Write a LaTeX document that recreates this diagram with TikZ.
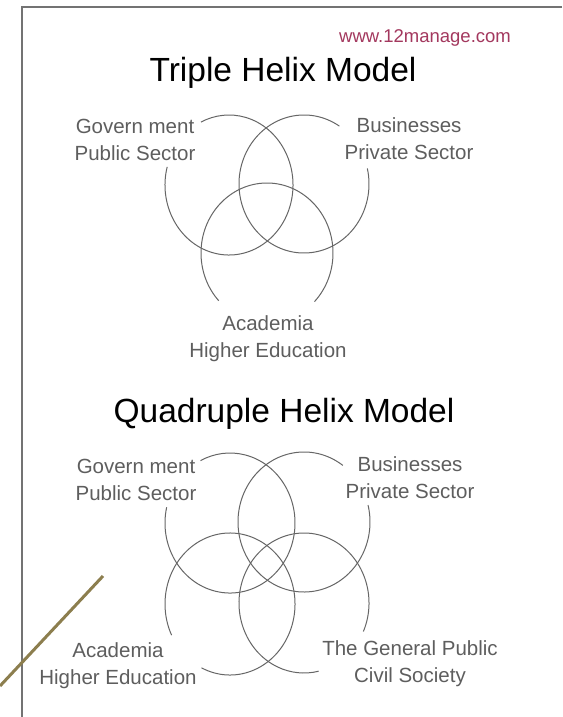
\documentclass[tikz,border=0pt]{standalone}
\usepackage{fontspec}
\setmainfont{Liberation Sans}
\definecolor{framegray}{HTML}{737373}
\definecolor{ringgray}{HTML}{666666}
\definecolor{labelgray}{HTML}{5E5E5E}
\definecolor{urlred}{HTML}{A3385E}
\definecolor{olivestroke}{HTML}{8C7E4E}
\tikzset{
  ring/.style={draw=ringgray, line width=1pt},
  sector/.style={text=labelgray, align=center, inner sep=0pt,
    font=\fontsize{20.5}{27}\selectfont},
  heading/.style={text=black, inner sep=0pt, font=\fontsize{33.5}{36}\selectfont}
}
\begin{document}
\begin{tikzpicture}[x=1pt,y=-1pt]
            \useasboundingbox[fill=white] (0,0) rectangle (562,717);
            \draw[framegray, line width=2.2pt] (562,7) -- (22,7) -- (22,717);
            \draw[olivestroke, line width=3pt] (0,686) -- (103,576);

            \node[text=urlred, inner sep=0pt, font=\fontsize{18.5}{20}\selectfont] (url) at (425,38) {www.12manage.com};

            % triple helix
            \node[heading] (tripletitle) at (283,73) {Triple Helix Model};
            \draw[ring] ([shift={(165:64pt and 70pt)}]229,185) arc[start angle=165, end angle=476, x radius=64pt, y radius=70pt];
            \draw[ring] ([shift={(57:65pt and 69pt)}]304,184) arc[start angle=57, end angle=373, x radius=65pt, y radius=69pt];
            \draw[ring] ([shift={(-44:66pt and 70pt)}]267,253) arc[start angle=-44, end angle=223, x radius=66pt, y radius=70pt];
            \node[sector] (tgov) at (135,140) {Govern ment\\Public Sector};
            \node[sector] (tbus) at (409,139) {Businesses\\Private Sector};
            \node[sector] (tacad) at (268,339) {Academia\\Higher Education};

            % quadruple helix
            \node[heading] (quadtitle) at (284,414) {Quadruple Helix Model};
            \draw[ring] ([shift={(167:65pt and 70pt)}]230,523) arc[start angle=167, end angle=477, x radius=65pt, y radius=70pt];
            \draw[ring] ([shift={(54:66pt and 70pt)}]304,522) arc[start angle=54, end angle=374, x radius=66pt, y radius=70pt];
            \draw[ring] ([shift={(244:65pt and 71pt)}]230,604) arc[start angle=244, end angle=566, x radius=65pt, y radius=71pt];
            \draw[ring] ([shift={(-24:65pt and 70pt)}]304,603) arc[start angle=-24, end angle=283, x radius=65pt, y radius=70pt];
            \node[sector] (qgov) at (136,480) {Govern ment\\Public Sector};
            \node[sector] (qbus) at (410,478) {Businesses\\Private Sector};
            \node[sector] (qacad) at (118,666) {Academia\\Higher Education};
            \node[sector] (qpub) at (410,664) {The General Public\\Civil Society};
        \end{tikzpicture}
\end{document}
